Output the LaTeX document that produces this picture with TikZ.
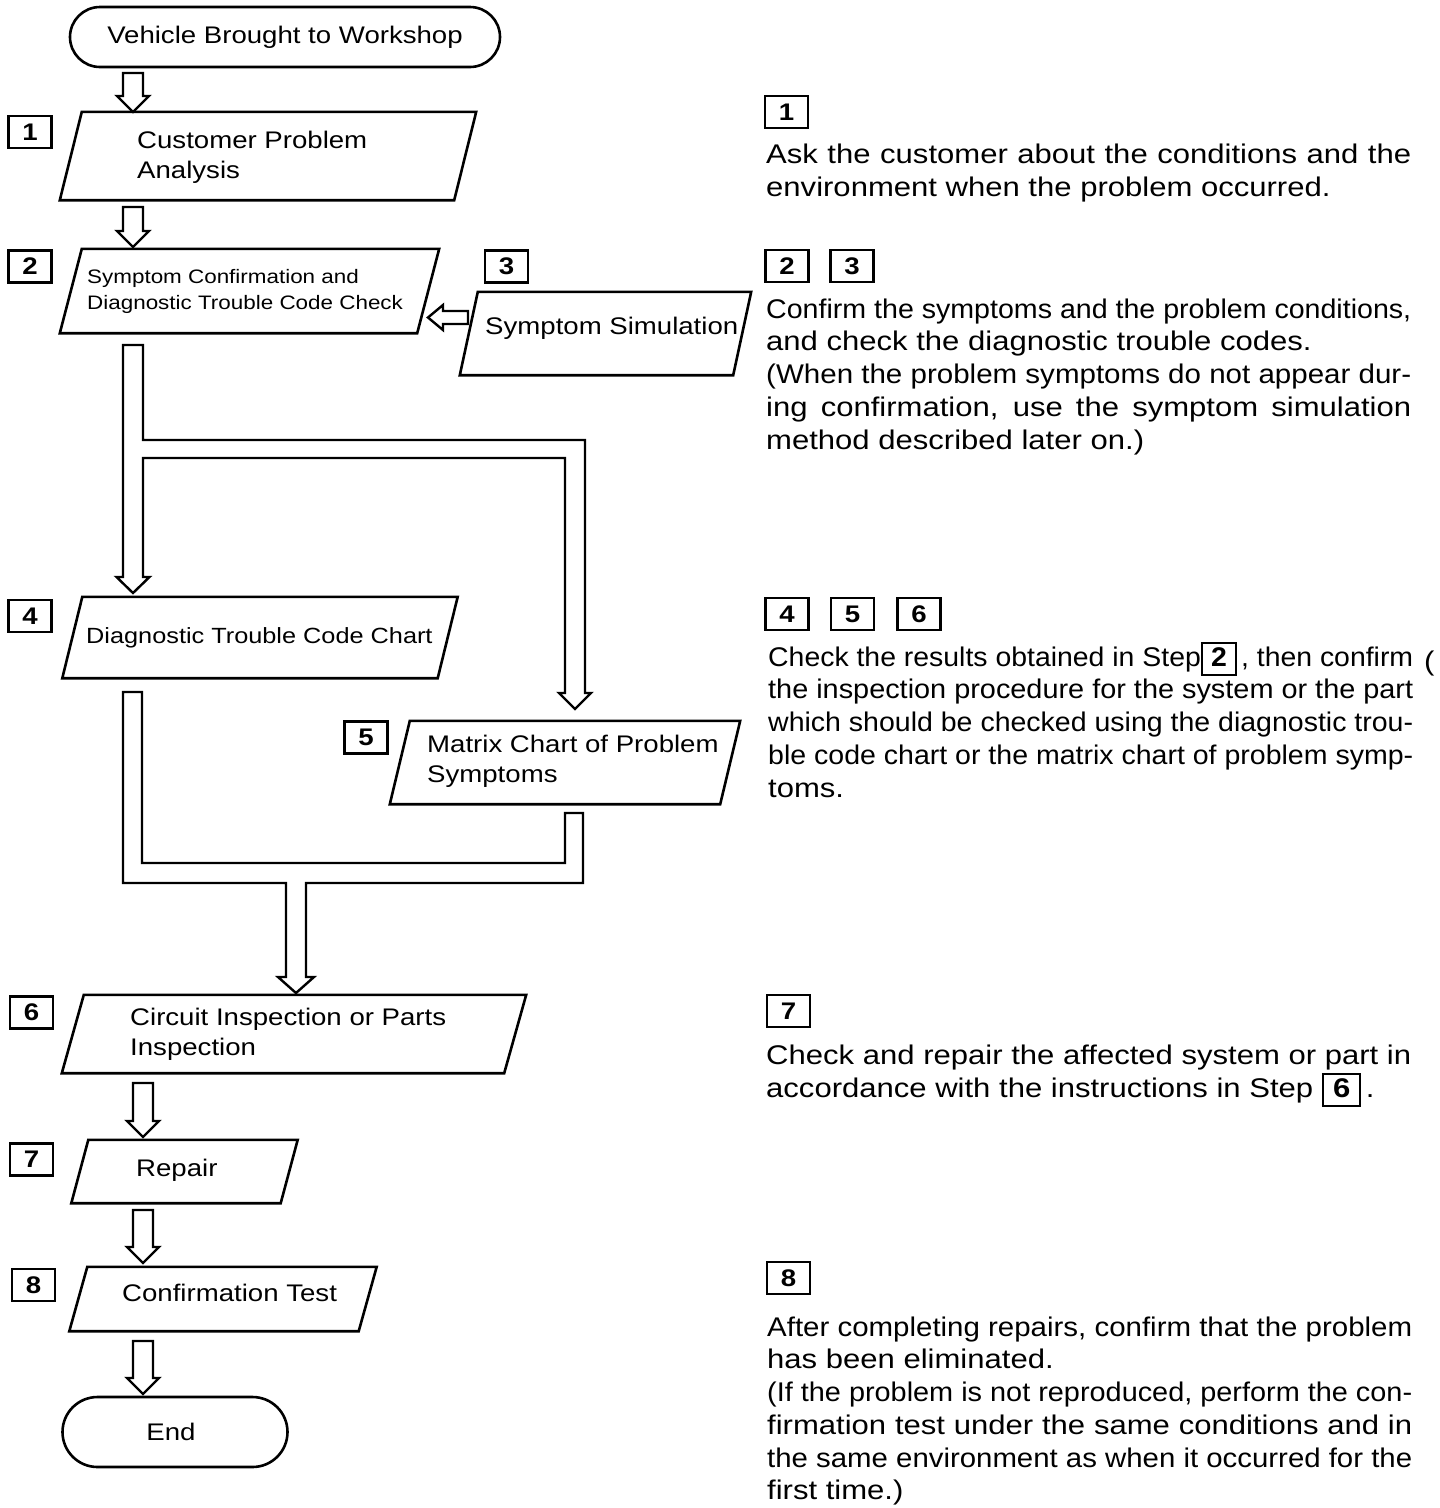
\documentclass[tikz,border=0pt]{standalone}
\usepackage{fontspec}
\usepackage{graphicx}
\setmainfont{Liberation Sans}[FakeStretch=1.15]
\usetikzlibrary{calc}
\newsavebox\jbox
\newcommand\jl[1]{\sbox\jbox{#1}\ifdim\wd\jbox>645pt\resizebox{645pt}{\ht\jbox}{\usebox\jbox}\else\makebox[645pt][s]{#1}\fi}
\newcommand\ib[1]{{\setlength\fboxrule{2.2pt}\setlength\fboxsep{1.5pt}\fbox{\rule[-6pt]{0pt}{27pt}\makebox[32pt]{\bfseries #1}}}}
\newcommand\hdown[2]{\draw[hollow] let \p1=(#1), \p2=(#2) in
  (\x1-10pt,\y1) -- (\x1+10pt,\y1) -- (\x1+10pt,\y2+16pt) -- (\x1+16pt,\y2+16pt) --
  (\x2,\y2) -- (\x1-16pt,\y2+16pt) -- (\x1-10pt,\y2+16pt) -- cycle;}
\newcommand\para[2]{% name, half slant
  \draw[boxline] ([xshift=#2]#1.north west) -- ([xshift=#2]#1.north east) --
  ([xshift=-#2]#1.south east) -- ([xshift=-#2]#1.south west) -- cycle;}
\begin{document}
\begin{tikzpicture}[x=1pt,y=-1pt,
  boxline/.style={line width=2.6pt, line join=miter},
  hollow/.style={line width=2.4pt, fill=white, line join=miter},
  frame/.style={inner sep=0pt, minimum width=#1},
  term/.style={draw, line width=2.6pt, inner sep=0pt, font=\fontsize{24}{28}\selectfont},
  btxt/.style={inner sep=0pt, anchor=mid west, align=left, font=\fontsize{24}{30}\selectfont},
  btxtm/.style={inner sep=0pt, anchor=west, align=left, font=\fontsize{24}{30}\selectfont},
  lab/.style={draw, line width=2.2pt, inner sep=0pt, minimum width=43pt, minimum height=32pt, font=\fontsize{24}{24}\selectfont\bfseries},
  rt/.style={inner sep=0pt, anchor=mid west, font=\fontsize{27}{33}\selectfont}]
\useasboundingbox[fill=white] (0,0) rectangle (1440,1508);

% terminals
\node[term, rounded corners=30pt, minimum width=430pt, minimum height=60pt] (start) at (285,37) {\raisebox{-2pt}{Vehicle Brought to Workshop}};
\node[term, rounded corners=35pt, minimum width=225pt, minimum height=70pt] (end) at (175,1432) {\hspace*{-8pt}\raisebox{-2pt}{End}};

% parallelogram frames (named nodes)
\node[frame=394pt, minimum height=88pt] (b1) at (268,156) {};
\node[frame=357pt, minimum height=84pt] (b2) at (249.5,291) {};
\node[frame=273pt, minimum height=83pt] (b3) at (605.5,333.5) {};
\node[frame=375pt, minimum height=81pt] (b4) at (260,637.5) {};
\node[frame=330pt, minimum height=83pt] (b5) at (565,762.5) {};
\node[frame=442pt, minimum height=78pt] (b6) at (294,1034) {};
\node[frame=209pt, minimum height=63pt] (b7) at (184.5,1171.5) {};
\node[frame=289pt, minimum height=64pt] (b8) at (223,1299) {};
\para{b1}{11pt}
\para{b2}{11pt}
\para{b3}{9pt}
\para{b4}{10pt}
\para{b5}{10pt}
\para{b6}{11pt}
\para{b7}{8.5pt}
\para{b8}{9pt}

% box texts
\node[btxtm] (t1) at (137,157) {Customer Problem\\Analysis};
\node[btxtm, font=\fontsize{19.5}{26}\selectfont] (t2) at (87,291) {Symptom Confirmation and\\Diagnostic Trouble Code Check};
\node[btxt] (t3) at (485,332) {Symptom Simulation};
\node[btxt, font=\fontsize{22}{26}\selectfont] (t4) at (86,641) {Diagnostic Trouble Code Chart};
\node[btxtm] (t5) at (427,761) {Matrix Chart of Problem\\Symptoms};
\node[btxtm] (t6) at (130,1034) {Circuit Inspection or Parts\\Inspection};
\node[btxt] (t7) at (136,1174) {Repair};
\node[btxt] (t8) at (122,1299) {Confirmation Test};

% step labels (left)
\node[lab] (l1) at (30,132) {1};
\node[lab] (l2) at (30,266.5) {2};
\node[lab] (l3) at (506.5,266.5) {3};
\node[lab] (l4) at (30,616) {4};
\node[lab] (l5) at (366,737.5) {5};
\node[lab] (l6) at (31.5,1012.5) {6};
\node[lab] (l7) at (31.5,1159.5) {7};
\node[lab] (l8) at (33.5,1285) {8};

% hollow arrows
\coordinate (a1s) at (133,73);  \coordinate (a1e) at (133,112);
\coordinate (a2s) at (133,207); \coordinate (a2e) at (133,247);
\coordinate (a6s) at (143,1083); \coordinate (a6e) at (143,1137);
\coordinate (a7s) at (143,1210); \coordinate (a7e) at (143,1263);
\coordinate (a8s) at (143,1341); \coordinate (a8e) at (143,1394);
\hdown{a1s}{a1e}
\hdown{a2s}{a2e}
\hdown{a6s}{a6e}
\hdown{a7s}{a7e}
\hdown{a8s}{a8e}

% left arrow from 3 to 2
\draw[hollow] (468,311) -- (468,324) -- (443,324) -- (443,330) -- (428,317.5) -- (443,305) -- (443,311) -- cycle;

% split arrow from 2 to 4 and 5
\draw[hollow] (123,345) -- (143,345) -- (143,440) -- (585,440) -- (585,693) -- (591,693)
  -- (575,709) -- (559,693) -- (565,693) -- (565,458) -- (143,458) -- (143,577)
  -- (149.5,577) -- (133,593) -- (116.5,577) -- (123,577) -- cycle;

% merge arrow from 4 and 5 to 6
\draw[hollow] (123,692) -- (142,692) -- (142,863) -- (565,863) -- (565,813) -- (583,813)
  -- (583,883) -- (306,883) -- (306,977) -- (314,977) -- (296,993) -- (278,977)
  -- (286,977) -- (286,883) -- (123,883) -- cycle;

% right column labels
\node[lab] (r1) at (786.5,112) {1};
\node[lab] (r2) at (787,266) {2};
\node[lab] (r3) at (852,266) {3};
\node[lab] (r4) at (787,614) {4};
\node[lab] (r5) at (852.5,614) {5};
\node[lab] (r6) at (919,614) {6};
\node[lab] (r7) at (788.5,1011) {7};
\node[lab] (r8) at (788.5,1278) {8};

% right column text
\node[rt] (p1a) at (766,161) {\jl{Ask the customer about the conditions and the}};
\node[rt] (p1b) at (766,194) {environment when the problem occurred.};

\node[rt] (p2a) at (766,316) {\jl{Confirm the symptoms and the problem conditions,}};
\node[rt] (p2b) at (766,348) {and check the diagnostic trouble codes.};
\node[rt] (p2c) at (766,381) {\jl{(When the problem symptoms do not appear dur-}};
\node[rt] (p2d) at (766,414) {\jl{ing confirmation, use the symptom simulation}};
\node[rt] (p2e) at (766,447) {method described later on.)};

\node[rt] (p4a) at (768,664) {\jl{Check the results obtained in Step\ib{2}\,, then confirm}};
\node[rt] (p4b) at (768,696) {\jl{the inspection procedure for the system or the part}};
\node[rt] (p4c) at (768,729) {\jl{which should be checked using the diagnostic trou-}};
\node[rt] (p4d) at (768,762) {\jl{ble code chart or the matrix chart of problem symp-}};
\node[rt] (p4e) at (768,795) {toms.};
\node[rt] (stray) at (1424,668) {(};

\node[rt] (p7a) at (766,1062) {\jl{Check and repair the affected system or part in}};
\node[rt] (p7b) at (766,1095) {accordance with the instructions in Step \ib{6}\,.};

\node[rt] (p8a) at (767,1334) {\jl{After completing repairs, confirm that the problem}};
\node[rt] (p8b) at (767,1366) {has been eliminated.};
\node[rt] (p8c) at (767,1399) {\jl{(If the problem is not reproduced, perform the con-}};
\node[rt] (p8d) at (767,1432) {\jl{firmation test under the same conditions and in}};
\node[rt] (p8e) at (767,1465) {\jl{the same environment as when it occurred for the}};
\node[rt] (p8f) at (767,1497) {first time.)};
\end{tikzpicture}
\end{document}
